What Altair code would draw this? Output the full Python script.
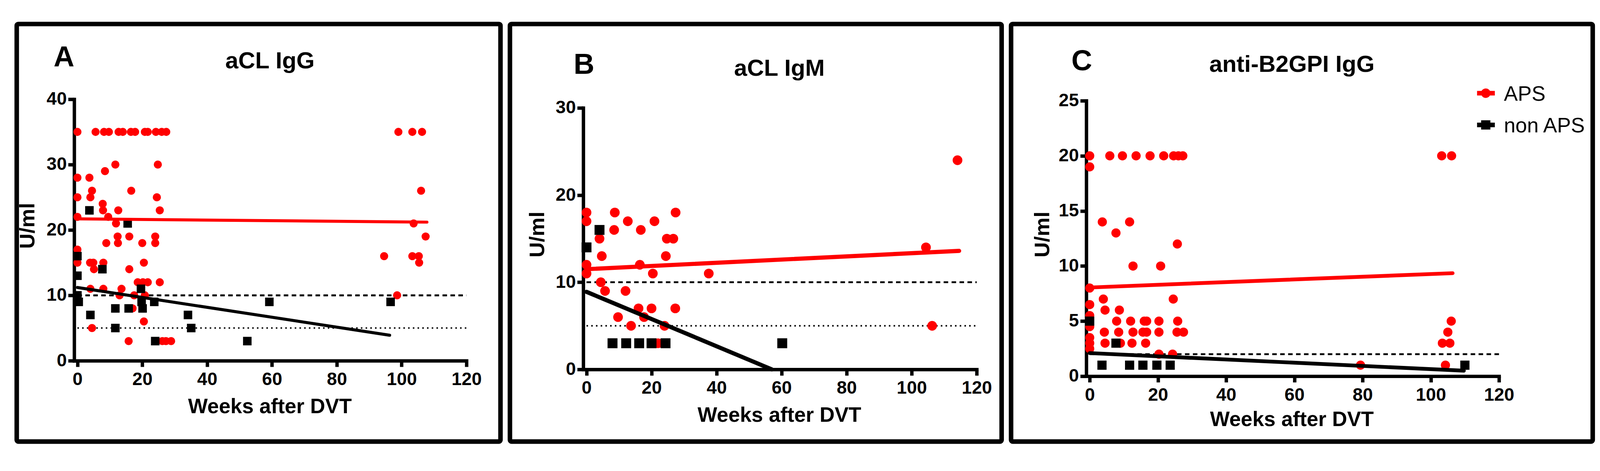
import altair as alt
import pandas as pd

FONT = "Liberation Sans"
RED = "#ff0000"
BLACK = "#000000"

X_TICKS = [0, 20, 40, 60, 80, 100, 120]
PANEL_LETTERS = ["A", "B", "C"]
PANEL_TITLES = ["aCL IgG", "aCL IgM", "anti-B2GPI IgG"]
X_TITLE = "Weeks after DVT"
Y_TITLE = "U/ml"
LEGEND_LABELS = ["APS", "non APS"]

# ---------------- Panel A : aCL IgG ----------------
A_APS_WEEKS = [
    0, 5.6, 8.2, 9.7, 12.7, 14.0, 16.5, 17.8, 20.8, 21.7, 24.2, 26.0, 27.4, 99.0, 103.3, 106.3,
    11.7, 24.8, 8.5, 0, 3.7, 4.5, 16.6, 106.0, 0, 4.0, 24.5, 7.8, 7.9, 12.6, 25.4,
    0, 9.5, 11.9, 103.7, 12.4, 16.0, 24.0, 107.4, 8.9, 12.5, 20.0, 24.0, 0,
    94.6, 103.3, 105.3, 0, 3.9, 4.9, 8.0, 20.5, 105.4, 5.1, 16.0,
    18.6, 20.2, 21.7, 25.4, 4.0, 8.0, 13.6, 13.0, 17.5, 20.8, 98.6,
    17.0, 20.5, 4.5, 15.8, 26.2, 27.3, 28.9,
]
A_APS_UML = [
    35, 35, 35, 35, 35, 35, 35, 35, 35, 35, 35, 35, 35, 35, 35, 35,
    30, 30, 29, 28, 28, 26, 26, 26, 25, 25, 25, 24, 23, 23, 23,
    22, 22, 21, 21, 19, 19, 19, 19, 18, 18, 18, 18, 17,
    16, 16, 16, 15, 15, 15, 15, 15, 15, 14, 14,
    12, 12, 12, 12, 11, 11, 11, 10, 10, 10, 10,
    8, 6, 5, 3, 3, 3, 3,
]
A_NON_WEEKS = [3.7, 15.5, 0, 7.7, 0, 19.6, 0, 0.4, 19.8, 23.7, 59.2, 96.6, 11.7, 15.8, 20.1, 4.0, 34.1, 11.7, 35.1, 24.0, 52.4]
A_NON_UML = [23, 21, 16, 14, 13, 11, 10, 9, 9, 9, 9, 9, 8, 8, 8, 7, 7, 5, 5, 3, 3]
A_FIT_APS_WEEKS = [0, 107.8]
A_FIT_APS_UML = [21.7, 21.2]
A_FIT_NON_WEEKS = [0, 96.3]
A_FIT_NON_UML = [11.2, 3.9]
A_DASHED = [10]
A_DOTTED = [5]

# ---------------- Panel B : aCL IgM ----------------
B_APS_WEEKS = [0, 8.7, 27.4, 0, 12.7, 20.9, 8.5, 16.7, 4.0, 24.7, 26.7, 4.7, 24.4, 0, 16.4,
               0, 20.4, 37.6, 4.4, 5.7, 12.0, 16.0, 20.0, 27.3, 9.7, 17.7, 13.7, 24.0, 22.0,
               114.1, 104.4, 106.3]
B_APS_UML = [18, 18, 18, 17, 17, 17, 16, 16, 15, 15, 15, 13, 13, 12, 12,
             11, 11, 11, 10, 9, 9, 7, 7, 7, 6, 6, 5, 5, 3,
             24, 14, 5]
B_NON_WEEKS = [4.0, 0, 8.0, 12.2, 16.2, 20.0, 24.3, 60.2]
B_NON_UML = [16, 14, 3, 3, 3, 3, 3, 3]
B_FIT_APS_WEEKS = [0, 114.6]
B_FIT_APS_UML = [11.5, 13.6]
B_FIT_NON_WEEKS = [0, 57.0]
B_FIT_NON_UML = [8.9, 0]
B_DASHED = [10]
B_DOTTED = [5]

# ---------------- Panel C : anti-B2GPI IgG ----------------
C_APS_WEEKS = [
    0, 5.9, 9.6, 13.6, 17.7, 21.7, 24.6, 26.0, 27.3, 103.2, 106.1,
    0, 3.7, 11.7, 7.7, 25.7, 12.7, 20.8, 0, 4.0, 24.5, 0, 4.5, 8.7, 0,
    7.9, 12.0, 16.0, 16.7, 20.3, 25.8, 106.0, 0,
    4.3, 8.5, 12.7, 15.6, 16.7, 20.3, 25.6, 27.5, 105.0, 0,
    0, 4.5, 9.0, 12.4, 16.4, 103.4, 105.6, 0, 20.3, 24.3, 79.4, 104.3,
]
C_APS_UML = [
    20, 20, 20, 20, 20, 20, 20, 20, 20, 20, 20,
    19, 14, 14, 13, 12, 10, 10, 8, 7, 7, 6.5, 6, 6, 5.5,
    5, 5, 5, 5, 5, 5, 5, 4.5,
    4, 4, 4, 4, 4, 4, 4, 4, 4, 3.5,
    3, 3, 3, 3, 3, 3, 3, 2.5, 2, 2, 1, 1,
]
C_NON_WEEKS = [0, 7.7, 3.6, 11.7, 15.6, 19.7, 23.6, 110.0]
C_NON_UML = [5, 3, 1, 1, 1, 1, 1, 1]
C_FIT_APS_WEEKS = [0, 106.4]
C_FIT_APS_UML = [8.05, 9.35]
C_FIT_NON_WEEKS = [0, 109.7]
C_FIT_NON_UML = [2.1, 0.5]
C_DASHED = [2]
C_DOTTED = []

REF_START = 0
REF_END = 120

# ---------------- styling / layout (pixels, relative to a common plot origin) ----------------
STYLE = {
    "A": dict(w=1038, h=692, yr=(692, 0), ymax=40, yticks=[0, 10, 20, 30, 40],
              box=(-152, 1128, -199, 906),
              letter=(-27, -87), title=(518, -82), ytitle=(-105, 335), xtitle=(518, 831),
              circ=462, sq=510, lw=8),
    "B": dict(w=1041, h=715, yr=(715, 23), ymax=30, yticks=[0, 10, 20, 30],
              box=(-194, 1107, -199, 906),
              letter=(2, -67), title=(519, -62), ytitle=(-103, 358), xtitle=(519, 854),
              circ=660, sq=690, lw=11),
    "C": dict(w=1092, h=733, yr=(733, 4), ymax=25, yticks=[0, 5, 10, 15, 20, 25],
              box=(-199, 1340, -199, 906),
              letter=(-12, -77), title=(544, -72), ytitle=(-98, 358), xtitle=(544, 865),
              circ=590, sq=590, lw=10),
}
LEGEND_ROWS_Y = [(-16, 4), (68, 88)]


def make_panel(idx, key, aps_w, aps_u, non_w, non_u, fa_w, fa_u, fn_w, fn_u, dashed, dotted, legend=False):
    s = STYLE[key]
    x_scale = alt.Scale(domain=[-1, 120], nice=False, zero=False)
    y_scale = alt.Scale(domain=[0, s["ymax"]], range=list(s["yr"]), nice=False, zero=False)
    common_axis = dict(title=None, grid=False, tickSize=16, tickWidth=9, domainWidth=9,
                       domainColor=BLACK, tickColor=BLACK, labelColor=BLACK, labelFont=FONT,
                       labelFontSize=48, labelFontWeight="bold", labelFlush=False,
                       labelOverlap=False, domainCap="square")
    x_axis = alt.Axis(values=X_TICKS, labelPadding=10, **common_axis)
    y_axis = alt.Axis(values=s["yticks"], labelPadding=4, **common_axis)

    def xe(field):
        return alt.X(f"{field}:Q", scale=x_scale, axis=x_axis)

    def ye(field):
        return alt.Y(f"{field}:Q", scale=y_scale, axis=y_axis)

    layers = []
    bx0, bx1, by0, by1 = s["box"]
    one = pd.DataFrame({"k": [0]})
    layers.append(
        alt.Chart(one).mark_rect(fill="transparent", stroke=BLACK, strokeWidth=12, cornerRadius=4)
        .encode(x=alt.value(bx0), x2=alt.value(bx1), y=alt.value(by0), y2=alt.value(by1))
    )
    if dashed:
        ddf = pd.DataFrame({"start": [REF_START] * len(dashed), "end": [REF_END] * len(dashed), "level": dashed})
        layers.append(alt.Chart(ddf).mark_rule(color=BLACK, strokeWidth=5, strokeDash=[12, 9])
                      .encode(x=xe("start"), x2="end:Q", y=ye("level")))
    if dotted:
        odf = pd.DataFrame({"start": [REF_START] * len(dotted), "end": [REF_END] * len(dotted), "level": dotted})
        layers.append(alt.Chart(odf).mark_rule(color=BLACK, strokeWidth=4, strokeDash=[4, 8.5])
                      .encode(x=xe("start"), x2="end:Q", y=ye("level")))

    aps = pd.DataFrame({"week": aps_w, "uml": aps_u})
    non = pd.DataFrame({"week": non_w, "uml": non_u})
    layers.append(alt.Chart(aps).mark_point(shape="circle", filled=True, size=s["circ"], color=RED, opacity=1)
                  .encode(x=xe("week"), y=ye("uml")))
    layers.append(alt.Chart(non).mark_point(shape="square", filled=True, size=s["sq"], color=BLACK, opacity=1)
                  .encode(x=xe("week"), y=ye("uml")))

    fa = pd.DataFrame({"week": fa_w, "uml": fa_u})
    fn = pd.DataFrame({"week": fn_w, "uml": fn_u})
    layers.append(alt.Chart(fa).mark_line(color=RED, strokeWidth=s["lw"], strokeCap="round")
                  .encode(x=xe("week"), y=ye("uml")))
    layers.append(alt.Chart(fn).mark_line(color=BLACK, strokeWidth=s["lw"], strokeCap="round")
                  .encode(x=xe("week"), y=ye("uml")))

    def text_layer(txt, pos, size, weight="bold", angle=0, align="center"):
        df = pd.DataFrame({"t": [txt]})
        kw = dict(font=FONT, fontSize=size, fontWeight=weight, align=align, baseline="alphabetic", color=BLACK)
        if angle:
            kw["angle"] = angle
        return alt.Chart(df).mark_text(**kw).encode(x=alt.value(pos[0]), y=alt.value(pos[1]), text="t:N")

    layers.append(text_layer(PANEL_LETTERS[idx], s["letter"], 76))
    layers.append(text_layer(PANEL_TITLES[idx], s["title"], 62))
    layers.append(text_layer(Y_TITLE, s["ytitle"], 56, angle=270))
    layers.append(text_layer(X_TITLE, s["xtitle"], 55))

    if legend:
        ldf = pd.DataFrame({"label": LEGEND_LABELS})
        rows = [(LEGEND_LABELS[0], RED, "circle"), (LEGEND_LABELS[1], BLACK, "square")]
        for (lab, col, shp), (ysym, ytxt) in zip(rows, LEGEND_ROWS_Y):
            base = alt.Chart(ldf).transform_filter(alt.datum.label == lab)
            layers.append(base.mark_rule(color=col, strokeWidth=12)
                          .encode(x=alt.value(1034), x2=alt.value(1081), y=alt.value(ysym)))
            layers.append(base.mark_point(shape=shp, filled=True, size=(625 if shp == "circle" else 600),
                                          color=col, opacity=1)
                          .encode(x=alt.value(1057), y=alt.value(ysym)))
            layers.append(base.mark_text(font=FONT, fontSize=55, align="left", baseline="alphabetic", color=BLACK)
                          .encode(x=alt.value(1105), y=alt.value(ytxt), text="label:N"))

    return alt.layer(*layers).properties(width=s["w"], height=s["h"])


pA = make_panel(0, "A", A_APS_WEEKS, A_APS_UML, A_NON_WEEKS, A_NON_UML,
                A_FIT_APS_WEEKS, A_FIT_APS_UML, A_FIT_NON_WEEKS, A_FIT_NON_UML, A_DASHED, A_DOTTED)
pB = make_panel(1, "B", B_APS_WEEKS, B_APS_UML, B_NON_WEEKS, B_NON_UML,
                B_FIT_APS_WEEKS, B_FIT_APS_UML, B_FIT_NON_WEEKS, B_FIT_NON_UML, B_DASHED, B_DOTTED)
pC = make_panel(2, "C", C_APS_WEEKS, C_APS_UML, C_NON_WEEKS, C_NON_UML,
                C_FIT_APS_WEEKS, C_FIT_APS_UML, C_FIT_NON_WEEKS, C_FIT_NON_UML, C_DASHED, C_DOTTED,
                legend=True)

chart = (
    alt.hconcat(pA, pB, pC, spacing=13)
    .properties(padding={"left": 30, "top": 30, "right": 5, "bottom": 5}, background="white")
    .configure_view(stroke=None)
)

chart.save("out.html", embed_options={"renderer": "svg", "actions": False})
